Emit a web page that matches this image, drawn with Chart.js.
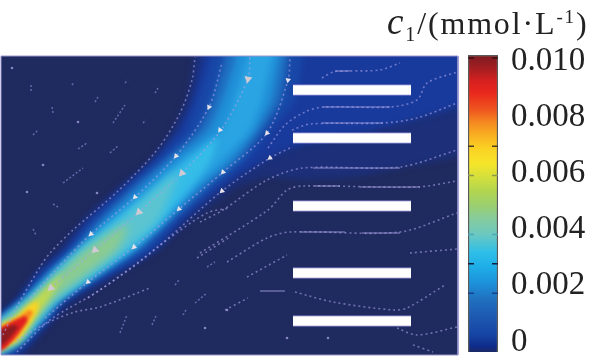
<!DOCTYPE html>
<html>
<head>
<meta charset="utf-8">
<title>c1 concentration field</title>
<script src="https://cdn.jsdelivr.net/npm/chart.js@4/dist/chart.umd.min.js"></script>
<style>
  html, body { margin: 0; background: #fff; }
  #wrap { position: relative; width: 591px; height: 359px; overflow: hidden; }
  canvas { position: absolute; top: 0; }
  #field { left: 0; }
  #cbar { left: 460px; }
  #unit { position: absolute; left: 387px; top: 0px; font: 32px "Liberation Serif", serif; letter-spacing: 1.85px; color: #222; white-space: nowrap; }
  #unit i { font-size: 37px; }
  #unit sub { font-size: 20px; vertical-align: -7px; line-height: 0; }
  #unit sup { font-size: 19px; vertical-align: 11px; line-height: 0; }
</style>
</head>
<body>
<div id="wrap">
  <canvas id="field" width="462" height="359"></canvas>
  <canvas id="cbar" width="131" height="359"></canvas>
  <div id="unit"><i>c</i><sub>1</sub>/(mmol·L<sup>-1</sup>)</div>
</div>
<script>
/* colour scale: values and colours */
const cbarLevels = [0, 0.0002, 0.0006, 0.0011, 0.0018, 0.0023, 0.0029, 0.0034, 0.0040, 0.0045, 0.0050, 0.0055, 0.0060, 0.0064, 0.0069, 0.0073, 0.0078, 0.0082, 0.0088, 0.0092, 0.0097, 0.0101];
const cbarColors = ["#1b2a66", "#0f2c8c", "#1645a4", "#1c55ae", "#2070c0", "#1d8fd8", "#1eaee8", "#30bfe8", "#6cc8c0", "#84cba0", "#9ccf6e", "#b4d64e", "#d8e03a", "#f5e52a", "#fbd323", "#f9b522", "#f58a20", "#ef5a1f", "#e8281c", "#d8201f", "#9e1e22", "#7a1a1f"];
const cbarMax = [0.0101];
const cbarTicks = [0.002, 0.003, 0.004, 0.006, 0.007, 0.010];
const cbarTickShade = ["#16408a", "#10203c", "#4aa8b8", "#8c9a50", "#4a4020", "#3a1014"];
const labelValues = [0, 0.002, 0.004, 0.006, 0.008, 0.010];

/* concentration contours, low to high, read from the field */
const band0 = [[-10,322],[2,312],[14,300],[35,272],[58,250],[82,220],[115,190],[150,160],[172,130],[186,100],[194,57],[194,45],[470,45],[470,150],[400,168],[350,178],[300,180],[265,178],[236,188],[190,222],[158,250],[110,280],[76,302],[55,320],[37,340],[20,358],[-10,366]];
const band1 = [[-10,324],[2,314],[18,300],[40,272],[65,250],[88,220],[120,190],[154,160],[178,130],[192,100],[203,57],[203,45],[470,45],[470,100],[420,118],[350,135],[300,145],[275,155],[228,183],[183,220],[155,250],[67,300],[50,320],[32,340],[15,356],[-10,364]];
const band2 = [[-10,326],[2,315],[20,300],[45,272],[68,250],[93,220],[125,190],[158,160],[186,130],[198,100],[212,57],[212,45],[305,45],[303,57],[295,100],[272,130],[248,160],[220,183],[178,220],[148,250],[64,300],[47,320],[28,340],[12,354],[-10,360]];
const band3 = [[-10,327],[2,317],[22,300],[48,272],[72,250],[99,220],[130,190],[165,160],[198,130],[212,100],[225,57],[225,45],[289,45],[288,57],[281,100],[262,130],[240,160],[212,183],[172,220],[140,250],[62,300],[45,320],[24,340],[8,352],[-10,358]];
const band4 = [[-10,328],[2,318],[25,300],[52,272],[77,250],[105,220],[138,190],[172,160],[208,130],[222,100],[236,57],[236,45],[281,45],[280,57],[272,100],[256,130],[232,160],[205,183],[168,220],[135,250],[60,300],[42,320],[22,340],[-10,357]];
const band5 = [[-10,329],[2,320],[27,300],[55,272],[80,250],[112,220],[148,190],[182,160],[222,130],[234,100],[248,57],[248,45],[273,45],[272,57],[262,100],[250,130],[222,160],[198,183],[163,220],[130,250],[57,300],[39,320],[21,340],[-10,356]];
const band6 = [[-10,329],[2,321],[28,300],[57,272],[80,250],[116,220],[153,190],[195,155],[218,138],[208,165],[194,183],[162,220],[128,250],[56,300],[38,320],[20,340],[-10,356]];
const band7 = [[-10,330],[2,322],[30,300],[59,272],[83,250],[122,220],[178,172],[158,220],[125,250],[55,300],[37,320],[20,340],[-10,356]];
const band8 = [[-10,331],[2,323],[32,300],[61,272],[86,250],[128,224],[116,250],[52,300],[34,320],[19,340],[-10,355]];
const band9 = [[-10,331],[2,324],[14,319],[36,298],[62,274],[48,300],[33,320],[18,340],[-10,354]];
const band10 = [[-10,332],[2,325],[17,317],[28,306],[38,301],[37,311],[31,322],[17,340],[-10,353]];
const band11 = [[-10,333],[2,326],[20,316],[29,310],[33,312],[29,320],[15,340],[-10,352]];
const band12 = [[-10,334],[2,327],[20,318],[26,316],[27,321],[13,340],[3,350],[-10,351]];
const band13 = [[-10,335],[3,329],[14,325],[18,327],[8,340],[2,345],[-10,347]];
const bands = [band0, band1, band2, band3, band4, band5, band6, band7, band8, band9, band10, band11, band12, band13];
const bandColors = ["#1c2f78", "#183a9c", "#1848a8", "#1f6ec0", "#2090d8", "#2aa4e2", "#35bde8", "#5cc4d0", "#8ccb90", "#c4da4c", "#fbd323", "#f58a20", "#e0201f", "#8c1c20"];
const bandBlur = [3, 3, 3, 3, 3, 3, 3, 4, 4, 3, 2, 1.5, 1.5, 1.5];

/* streamlines */
const streamTop = [[3,335],[15,310],[40,267],[50,253],[73,230],[117,192],[157,150],[180,113],[192,80],[195,57]];
const streamA = [[30,298],[67,258],[91,234],[135,197],[176,156],[209,107],[222,63]];
const streamB = [[51,288],[95,250],[139,212],[182,173],[221,130],[248,79],[250,57]];
const streamC = [[45,318],[88,282],[134,247],[179,209],[223,172],[267,133],[288,80],[290,57]];
const streamD = [[17,352],[50,320],[100,290],[160,245],[222,191],[270,158],[292,147]];
const streamE = [[322,78],[333,72],[347,71],[380,70],[400,63]];
const streamF = [[268,148],[285,125],[305,112],[323,107],[390,107],[417,100],[427,83],[457,72]];
const streamG = [[292,130],[310,124],[383,123],[417,118],[457,103]];
const streamH = [[200,222],[223,210],[267,180],[303,168],[400,167],[457,150]];
const streamI = [[200,253],[268,210],[287,190],[303,186],[417,187],[457,181]];
const streamJ = [[227,262],[267,238],[290,232],[400,232],[457,213]];
const streamK = [[410,253],[457,249]];
const streamL = [[247,277],[287,255]];
const streamM = [[225,310],[248,298]];
const streamO = [[295,292],[333,302],[393,310],[407,308],[445,285]];
const streamP = [[397,328],[417,335],[457,327]];
const streamQ = [[413,345],[433,352]];
const streamR = [[17,340],[47,323],[75,312],[100,307],[150,288]];
const streamS = [[88,298],[133,267],[167,240],[207,213],[230,208]];
const streamT = [[197,258],[230,237]];
const streams = [streamTop, streamA, streamB, streamC, streamD, streamE, streamF, streamG, streamH, streamI, streamJ, streamK, streamL, streamM, streamO, streamP, streamQ, streamR, streamS, streamT];
const fragments = [[[31,85],[31,93]],[[33,135],[38,130]],[[78,149],[87,143]],[[110,153],[119,145]],[[113,123],[125,105]],[[63,183],[83,168]],[[95,102],[98,97]],[[72,85],[74,82]],[[125,83],[128,80]],[[155,93],[158,88]],[[143,123],[146,120]],[[52,107],[53,113]],[[53,204],[58,207]],[[33,229],[36,235]],[[175,285],[179,280]],[[195,303],[207,293]],[[207,267],[215,262]],[[120,333],[127,315]],[[152,325],[156,316]],[[183,315],[187,308]]];
const streaks = [[[323,107],[390,107]],[[322,123],[383,123]],[[313,168],[400,168]],[[315,186],[340,186]],[[360,187],[420,187]],[[300,232],[345,232]],[[362,233],[400,233]],[[260,291],[285,291]],[[335,71],[350,71]]];
const specks = [[43,165],[78,122],[12,68],[27,192],[97,193],[205,328],[227,310],[287,338],[328,338]];

/* flow arrows: position and heading in degrees */
const arrowsPale = [[209,107],[220,130],[176,156],[223,172],[135,197],[179,209],[222,191],[91,234],[134,247],[88,282],[267,133],[288,80],[270,158]];
const arrowsPaleTurn = [205,215,218,222,225,225,228,228,228,230,222,190,235];
const arrowsGrey = [[51,288],[95,250],[139,212],[182,173],[248,79]];
const arrowsGreyTurn = [230,228,225,222,190];

/* plates: span and height of each */
const plateSpan = [293, 411];
const plateRows = [90, 138, 206, 273, 321];

const frame = [[1,56],[458,56],[458,355],[1,355],[1,56]];

const toPts = a => a.map(p => ({ x: p[0], y: p[1] }));

function colorAt(chart) {
  const area = chart.chartArea;
  if (!area) return cbarColors[0];
  const y = chart.scales.y;
  const g = chart.ctx.createLinearGradient(0, y.getPixelForValue(0), 0, y.getPixelForValue(cbarMax[0]));
  cbarLevels.forEach((l, i) => g.addColorStop(l / cbarMax[0], cbarColors[i]));
  return g;
}

/* blurred contour fills, the picture is soft */
const softField = {
  id: "softField",
  beforeDraw(chart) {
    const { ctx, chartArea: a } = chart;
    ctx.save();
    ctx.fillStyle = "#1f2a5e";
    ctx.fillRect(a.left, a.top, a.width, a.height);
    ctx.restore();
  },
  beforeDatasetDraw(chart, args) {
    const ds = chart.data.datasets[args.index];
    const ctx = chart.ctx;
    if (ds.bandBlur) {
      const a = chart.chartArea;
      const line = args.meta.dataset;
      line.updateControlPoints(a);
      ctx.save();
      ctx.beginPath();
      ctx.rect(a.left, a.top, a.width, a.height);
      ctx.clip();
      ctx.filter = `blur(${ds.bandBlur}px)`;
      ctx.fillStyle = ds.bandColor;
      ctx.beginPath();
      line.path(ctx);
      ctx.closePath();
      ctx.fill();
      ctx.restore();
    } else if (ds.soft) {
      ctx.filter = `blur(${ds.soft}px)`;
    }
  },
  afterDatasetDraw(chart) { chart.ctx.filter = "none"; }
};

const fieldSets = [];
bands.forEach((b, i) => fieldSets.push({ data: toPts(b), showLine: true, tension: 0.2, borderWidth: 0, pointRadius: 0, bandColor: bandColors[i], bandBlur: bandBlur[i] }));
streams.forEach(s => fieldSets.push({ data: toPts(s), showLine: true, tension: 0.3, borderColor: "rgba(168,162,232,0.6)", borderWidth: 1.6, borderDash: [2, 3], pointRadius: 0, soft: 0.5 }));
fragments.forEach(s => fieldSets.push({ data: toPts(s), showLine: true, borderColor: "rgba(150,145,225,0.6)", borderWidth: 1.5, borderDash: [2, 2], pointRadius: 0, soft: 0.5 }));
streaks.forEach(s => fieldSets.push({ data: toPts(s), showLine: true, borderColor: "rgba(165,160,225,0.55)", borderWidth: 1.6, pointRadius: 0, soft: 0.7 }));
fieldSets.push({ data: toPts(specks), pointStyle: "circle", pointRadius: 1.3, pointBorderWidth: 0, pointBackgroundColor: "rgba(170,165,230,0.75)", soft: 0.4 });
fieldSets.push({ data: toPts(arrowsPale), pointStyle: "triangle", pointRadius: 3.2, pointRotation: arrowsPaleTurn, pointBorderWidth: 0, pointBackgroundColor: "#e6e4ea", soft: 0.4 });
fieldSets.push({ data: toPts(arrowsGrey), pointStyle: "triangle", pointRadius: 4.6, pointRotation: arrowsGreyTurn, pointBorderWidth: 0, pointBackgroundColor: "#cfcad4", soft: 0.4 });
plateRows.forEach(r => fieldSets.push({ data: plateSpan.map(x => ({ x, y: r })), showLine: true, borderColor: "rgba(140,135,215,0.7)", borderWidth: 11.5, pointRadius: 0, borderCapStyle: "butt" }));
plateRows.forEach(r => fieldSets.push({ data: plateSpan.map(x => ({ x, y: r })), showLine: true, borderColor: "#ffffff", borderWidth: 9.5, pointRadius: 0, borderCapStyle: "butt" }));
fieldSets.push({ data: toPts(frame), showLine: true, borderColor: "#9a96d0", borderWidth: 1, pointRadius: 0, clip: 2 });
// chart.js paints the first dataset last, so flip to keep the low bands underneath
fieldSets.reverse();

new Chart(document.getElementById("field"), {
  type: "scatter",
  data: { datasets: fieldSets },
  options: {
    responsive: false, animation: false, events: [],
    // the wide plate lines would otherwise inset the plot
    layout: { autoPadding: false, padding: { left: 1, top: 56, right: 4, bottom: 4 } },
    plugins: { legend: { display: false }, tooltip: { enabled: false } },
    scales: {
      x: { type: "linear", display: false, min: 1, max: 458 },
      y: { type: "linear", display: false, min: 56, max: 355, reverse: true }
    }
  },
  plugins: [softField]
});

/* short dark notches on both sides of the colour bar */
const barNotches = {
  id: "barNotches",
  afterDatasetsDraw(chart) {
    const { ctx, chartArea: a, scales } = chart;
    ctx.save();
    ctx.lineWidth = 1.5;
    cbarTicks.forEach((t, i) => {
      const y = scales.y.getPixelForValue(t);
      ctx.strokeStyle = cbarTickShade[i];
      ctx.beginPath();
      ctx.moveTo(a.left, y); ctx.lineTo(a.left + 6, y);
      ctx.moveTo(a.right - 6, y); ctx.lineTo(a.right, y);
      ctx.stroke();
    });
    ctx.restore();
  }
};

new Chart(document.getElementById("cbar"), {
  type: "bar",
  data: {
    labels: ["c1"],
    datasets: [{
      data: cbarMax,
      backgroundColor: c => colorAt(c.chart),
      borderColor: "#5a5a5a", borderWidth: 1.5,
      barPercentage: 1, categoryPercentage: 1
    }]
  },
  options: {
    responsive: false, animation: false, events: [],
    layout: { padding: { left: 8, top: 55, right: 0, bottom: 7 } },
    plugins: { legend: { display: false }, tooltip: { enabled: false } },
    scales: {
      x: { display: false },
      y: { display: false, min: 0, max: cbarMax[0] },
      labelAxis: {
        position: "right", min: -0.000356, max: 0.010214,
        grid: { display: false, drawTicks: false }, border: { display: false },
        // big labels would otherwise push the bar up from the bottom edge
        afterFit: s => { s.width = 93; s.paddingTop = 0; s.paddingBottom = 0; },
        afterBuildTicks: s => { s.ticks = labelValues.map(value => ({ value })); },
        ticks: {
          autoSkip: false, padding: 13, color: "#222", crossAlign: "near",
          font: { family: "'Liberation Serif', serif", size: 33 },
          callback: v => (v === 0 ? "0" : v.toFixed(3))
        }
      }
    }
  },
  plugins: [barNotches]
});
</script>
</body>
</html>
